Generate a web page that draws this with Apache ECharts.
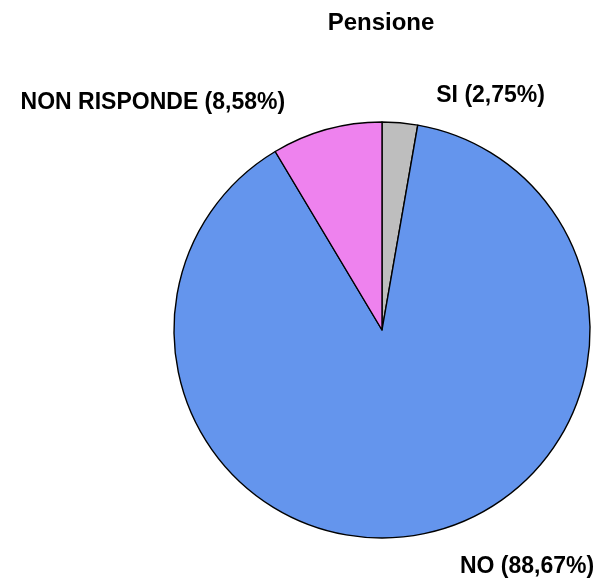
<!DOCTYPE html>
<html>
<head>
<meta charset="utf-8">
<script src="https://cdn.jsdelivr.net/npm/echarts@6/dist/echarts.min.js"></script>
<style>
  html, body { margin: 0; padding: 0; background: #fff; }
  #chart { width: 597px; height: 584px; }
</style>
</head>
<body>
<div id="chart"></div>
<script>
// Risposte alla domanda "Pensione" (percentuali)
const categories = ['SI', 'NO', 'NON RISPONDE'];
const percentages = [2.75, 88.67, 8.58];
const sliceColors = ['#bebebe', '#6495ed', '#ee82ee'];
// distance of each outside label from the rim
const labelLineLengths = [27, 33, 28];

const fmt = v => v.toFixed(2).replace('.', ',');

const pieData = categories.map((name, i) => ({
  name: name,
  value: percentages[i],
  itemStyle: { color: sliceColors[i] },
  labelLine: { show: false, length: labelLineLengths[i], length2: 29 }
}));

const chart = echarts.init(document.getElementById('chart'), null, { renderer: 'canvas' });
chart.setOption({
  backgroundColor: '#ffffff',
  animation: false,
  title: {
    text: 'Pensione',
    left: 381,
    top: 11,
    padding: 0,
    textAlign: 'center',
    textStyle: {
      fontFamily: 'Liberation Sans, Arial, sans-serif',
      fontWeight: 'bold',
      fontSize: 24,
      color: '#000'
    }
  },
  series: [{
    type: 'pie',
    left: 0,
    top: 0,
    width: 800,
    height: 800,
    center: [382, 330],
    radius: 208,
    startAngle: 90,
    clockwise: true,
    avoidLabelOverlap: false,
    data: pieData,
    itemStyle: { borderColor: '#000', borderWidth: 1.4 },
    emphasis: { disabled: true },
    label: {
      show: true,
      position: 'outside',
      distanceToLabelLine: 5,
      formatter: p => p.name + ' (' + fmt(p.value) + '%)',
      fontFamily: 'Liberation Sans, Arial, sans-serif',
      fontWeight: 'bold',
      fontSize: 23,
      color: '#000'
    }
  }]
});
</script>
</body>
</html>
